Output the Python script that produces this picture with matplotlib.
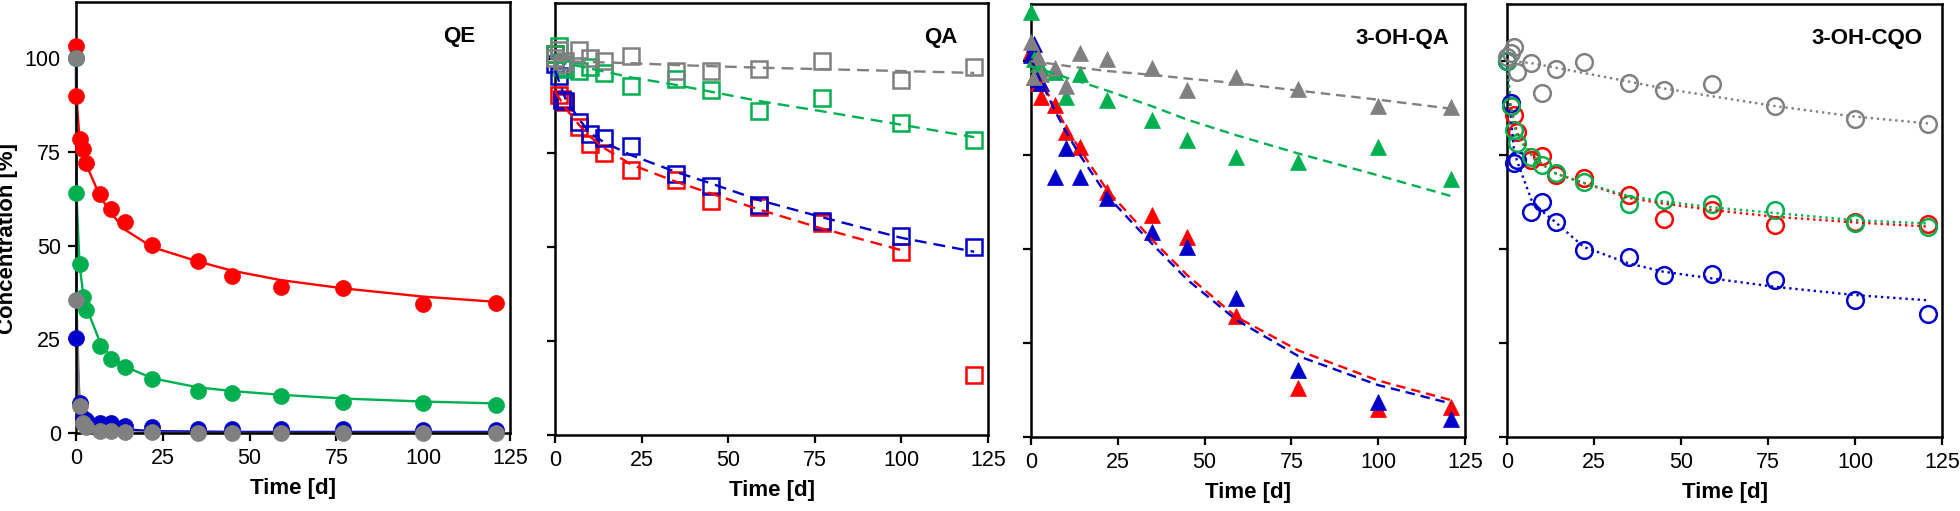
import matplotlib
matplotlib.use("Agg")
import matplotlib.pyplot as plt

plt.rcParams['font.family'] = ['Liberation Sans', 'DejaVu Sans']

# ---------------- data ----------------
T1 = [0, 0.1, 1, 2, 3, 7, 10, 14, 22, 35, 45, 59, 77, 100, 121]
T = [0, 1, 2, 3, 7, 10, 14, 22, 35, 45, 59, 77, 100, 121]

panel_titles = ["QE", "QA", "3-OH-QA", "3-OH-CQO"]
x_ticks = [0, 25, 50, 75, 100, 125]
y_ticks = [0, 25, 50, 75, 100]

# QE (filled circles, solid fits)
qe_red = [103.3, 89.8, 78.5, 75.8, 72.0, 63.8, 59.8, 56.3, 50.3, 45.9, 41.8, 39.0, 38.6, 34.4, 34.6]
qe_red_fit = [103, 90, 78.5, 75, 71.5, 63, 58.8, 54.3, 49.6, 45.8, 43.3, 40.8, 38.6, 36.4, 35.0]
qe_blue = [100, 25.3, 8.0, 4.0, 3.5, 2.8, 2.6, 2.0, 1.5, 1.1, 1.1, 1.0, 1.0, 0.9, 0.9]
qe_blue_fit = [100, 25.3, 8.0, 4.0, 3.0, 1.5, 1.2, 1.0, 0.5, 0.4, 0.3, 0.3, 0.3, 0.3, 0.3]
qe_green = [100, 64.0, 45.2, 36.3, 32.8, 23.2, 19.7, 17.7, 14.4, 11.3, 10.6, 9.75, 8.4, 8.0, 7.5]
qe_green_fit = [100, 64, 45, 37.5, 33.5, 24, 20.5, 17.8, 14.6, 12.2, 11.2, 10.2, 9.2, 8.4, 7.9]
qe_gray = [100, 35.5, 7.3, 2.6, 1.5, 0.6, 0.5, 0.3, 0.2, 0.1, 0.1, 0.0, 0.0, 0.0, 0.0]
qe_gray_fit = [100, 35.5, 7.3, 2.6, 1.5, 0.5, 0.3, 0.2, 0.1, 0, 0, 0, 0, 0, 0]

# QA (open squares, dashed fits)
qa_red = [101.5, 90.4, 89.5, 88.7, 82.0, 77.4, 75.1, 70.5, 67.8, 62.2, 60.7, 56.5, 48.6, 16.0]
qa_red_fit = [91.5, 90, 88.5, 87, 82.5, 79.5, 76.5, 72, 67.4, 64.3, 60, 55, 49.2]
qa_blue = [98.9, 95.7, 89.1, 89.0, 83.3, 80.2, 79.2, 77.0, 69.4, 66.2, 61.3, 57.0, 53.0, 50.1]
qa_blue_fit = [97, 94.5, 92, 89.5, 84, 80.5, 78, 74.5, 70, 67, 62.5, 58, 52.5, 48.8]
qa_green = [101.5, 103.7, 98.0, 97.5, 97.0, 97.9, 96.5, 93.0, 94.9, 91.9, 86.3, 89.7, 83.0, 78.6]
qa_green_fit = [99.5, 99.3, 99.1, 98.9, 98.2, 97.6, 96.8, 95.2, 93.2, 91.4, 88.9, 86.2, 82.6, 79.3]
qa_gray = [100.5, 102.4, 98.9, 99.7, 102.4, 100.5, 99.5, 100.8, 97.0, 96.9, 97.5, 99.7, 94.4, 98.0]
qa_gray_fit = [99.6, 99.6, 99.5, 99.5, 99.4, 99.3, 99.2, 99.0, 98.5, 98.2, 97.8, 97.4, 96.9, 96.4]

# 3-OH-QA (filled triangles, dashed fits)
oqa_red = [102.5, 95.5, 94.0, 90.2, 88.3, 80.9, 76.9, 65.2, 59.0, 53.2, 32.1, 12.9, 7.5, 8.0]
oqa_red_fit = [100, 98, 96.2, 94.4, 87.5, 82.5, 76.5, 65.5, 52.3, 43, 32, 23, 15, 9.8]
oqa_blue = [101.5, 104.5, 95.0, 94.0, 69.1, 76.8, 69.1, 63.5, 54.5, 50.5, 36.8, 17.7, 9.3, 4.9]
oqa_blue_fit = [100.5, 98.3, 96.2, 94.2, 86.5, 81.2, 75, 64, 51.2, 41.8, 31.2, 21.5, 13.8, 8.9]
oqa_green = [113.0, 100.5, 99.0, 98.0, 96.9, 90.4, 96.3, 89.6, 84.2, 79.0, 74.3, 73.1, 76.9, 68.4]
oqa_green_fit = [98.5, 98.2, 97.9, 97.6, 96.5, 95.5, 94.4, 92.0, 87.8, 84.3, 80.2, 75.3, 69.5, 64.0]
oqa_gray = [105.0, 95.7, 101.0, 96.5, 98.1, 93.1, 102.1, 100.3, 98.0, 92.2, 95.7, 92.4, 87.9, 87.6]
oqa_gray_fit = [99.8, 99.7, 99.6, 99.5, 99.0, 98.6, 98.1, 97.2, 96.2, 95.2, 94.0, 92.0, 89.6, 87.2]

# 3-OH-CQO (open circles, dotted fits)
cqo_red = [100, 87.8, 85.6, 81.1, 73.6, 74.7, 69.6, 68.9, 64.3, 58.0, 60.3, 56.3, 57.2, 56.7]
cqo_red_fit = [100, 88, 84, 80.5, 75, 72.5, 70, 67.5, 63.5, 62, 60.3, 58.5, 57, 55.9]
cqo_blue = [100, 88.8, 72.9, 73.7, 59.8, 62.5, 57.2, 49.8, 47.7, 43.0, 43.4, 41.7, 36.5, 32.8]
cqo_blue_fit = [100, 86, 76, 73, 63, 60, 57, 50.5, 46.1, 43.9, 42.1, 39.9, 37.7, 36.3]
cqo_green = [100, 87.8, 81.6, 78.2, 74.5, 72.3, 70.2, 67.6, 61.9, 62.9, 61.9, 60.3, 56.9, 55.7]
cqo_green_fit = [100, 88, 83, 79.5, 75, 72.5, 70, 67.5, 64, 62.6, 61, 59.5, 57.6, 56.7]
cqo_gray = [100.8, 102.1, 103.7, 97.0, 99.3, 91.5, 97.7, 99.7, 94.0, 92.2, 93.8, 87.9, 84.5, 83.2]
cqo_gray_fit = [100, 99.9, 99.8, 99.7, 99.3, 98.8, 98.1, 96.7, 94.4, 92.6, 90.5, 87.9, 85.1, 83.3]

RED = '#FF0000'
BLUE = '#0000C8'
GREEN = '#00B050'
GRAY = '#808080'

# ---------------- figure ----------------
fig = plt.figure(figsize=(19.6, 5.11), dpi=100)

axes_rects = [
    [0.0388, 0.1526, 0.2214, 0.8434],
    [0.2832, 0.1487, 0.2209, 0.8453],
    [0.5260, 0.1448, 0.2214, 0.8473],
    [0.7689, 0.1448, 0.2219, 0.8473],
]
title_x = [0.92, 0.93, 0.965, 0.956]

panels = [
    dict(t=T1, series=[(qe_red, qe_red_fit, RED), (qe_blue, qe_blue_fit, BLUE),
                       (qe_green, qe_green_fit, GREEN), (qe_gray, qe_gray_fit, GRAY)],
         marker='o', filled=True, ls='-', ms=11.5),
    dict(t=T, series=[(qa_red, qa_red_fit, RED), (qa_blue, qa_blue_fit, BLUE),
                      (qa_green, qa_green_fit, GREEN), (qa_gray, qa_gray_fit, GRAY)],
         marker='s', filled=False, ls=(0, (5, 3)), ms=12),
    dict(t=T, series=[(oqa_red, oqa_red_fit, RED), (oqa_blue, oqa_blue_fit, BLUE),
                      (oqa_green, oqa_green_fit, GREEN), (oqa_gray, oqa_gray_fit, GRAY)],
         marker='^', filled=True, ls=(0, (4, 2.5)), ms=12),
    dict(t=T, series=[(cqo_red, cqo_red_fit, RED), (cqo_blue, cqo_blue_fit, BLUE),
                      (cqo_green, cqo_green_fit, GREEN), (cqo_gray, cqo_gray_fit, GRAY)],
         marker='o', filled=False, ls=(0, (1, 1.6)), ms=12),
]

for i, (rect, p) in enumerate(zip(axes_rects, panels)):
    ax = fig.add_axes(rect)
    t = p['t']
    for vals, fit, col in p['series']:
        if p['filled']:
            ax.plot(t, vals, linestyle='none', marker=p['marker'], ms=p['ms'],
                    mfc=col, mec=col, mew=0.5, clip_on=False, zorder=3)
        else:
            ax.plot(t, vals, linestyle='none', marker=p['marker'], ms=p['ms'],
                    mfc='none', mec=col, mew=1.8, clip_on=False, zorder=3)
        ax.plot(t[:len(fit)], fit, linestyle=p['ls'], color=col, lw=1.7,
                clip_on=False, zorder=4 if i > 0 else 2)

    ax.set_xlim(0, 125)
    ax.set_ylim(0, 115)
    ax.set_xticks(x_ticks)
    ax.set_yticks(y_ticks)
    ax.tick_params(axis='both', direction='out', length=6, width=1.6,
                   labelsize=15.5, pad=5, color='black')
    if i > 0:
        ax.set_yticklabels([])
    for s in ax.spines.values():
        s.set_linewidth(1.8)
        s.set_color('black')
    ax.set_xlabel('Time [d]', fontsize=16, fontweight='bold', labelpad=6)
    if i == 0:
        ax.set_ylabel('Concentration [%]', fontsize=16, fontweight='bold')
        ax.yaxis.set_label_coords(-0.133, 0.452)
    ax.text(title_x[i], 0.92, panel_titles[i], transform=ax.transAxes,
            ha='right', va='center', fontsize=16, fontweight='bold')

fig.savefig('out.png', dpi=100)
